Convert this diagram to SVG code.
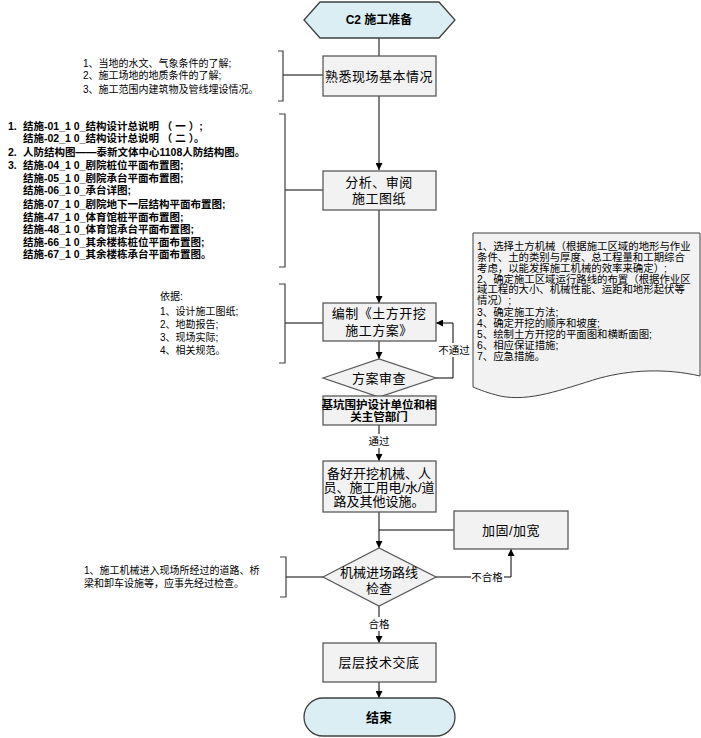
<svg xmlns="http://www.w3.org/2000/svg" width="701" height="738" viewBox="0 0 701 738">
<defs>
<marker id="ah" viewBox="0 0 10 10" refX="10" refY="5" markerWidth="7" markerHeight="7" markerUnits="userSpaceOnUse" orient="auto"><path d="M0,0 L10,5 L0,10 Z" fill="#000"/></marker>
<style>
text{font-family:"Liberation Sans","Noto Sans CJK SC",sans-serif;fill:#000}
.box{fill:#f2f2f2;stroke:#5a5a5a;stroke-width:1.3}
.term{fill:#daeef3;stroke:#404040;stroke-width:1.3}
.bt{font-size:13px;text-anchor:middle;dominant-baseline:central}
.bb{font-size:12px;font-weight:bold;text-anchor:middle;dominant-baseline:central}
.note{font-size:10px;dominant-baseline:central}
.noteb{font-size:10.5px;font-weight:bold;dominant-baseline:central}
.lbl{font-size:10.5px;text-anchor:middle;dominant-baseline:central}
.c{fill:none;stroke:#000;stroke-width:1}
.br{fill:none;stroke:#404040;stroke-width:1.2}
</style>
</defs>
<rect width="701" height="738" fill="#fff"/>

<g id="connectors">
<path class="c" d="M379,38 V56"/>
<path class="c" d="M379,96 V170" marker-end="url(#ah)"/>
<path class="c" d="M379,210 V303" marker-end="url(#ah)"/>
<path class="c" d="M379,341 V359" marker-end="url(#ah)"/>
<path class="c" d="M436,378 H453 V323 H436" marker-end="url(#ah)"/>
<path class="c" d="M379,425 V461" marker-end="url(#ah)"/>
<path class="c" d="M379,512 V548" marker-end="url(#ah)"/>
<path class="c" d="M454,530 H379"/>
<path class="c" d="M436,577 H511 V549" marker-end="url(#ah)"/>
<path class="c" d="M379,606 V643" marker-end="url(#ah)"/>
<path class="c" d="M379,682 V698" marker-end="url(#ah)"/>
<path d="M283,75 H323" stroke="#7f7f7f" stroke-width="2" fill="none"/>
<path class="c" d="M285,190 H323"/>
<path d="M285,323 H323" stroke="#555" stroke-width="1.3" fill="none"/>
<path class="c" d="M286,577 H323"/>
<rect x="437" y="343" width="34" height="14" fill="#fff"/>
<text class="lbl" x="454" y="350">不通过</text>
<rect x="367" y="434" width="24" height="14" fill="#fff"/>
<text class="lbl" x="379" y="441">通过</text>
<rect x="471" y="570" width="33" height="14" fill="#fff"/>
<text class="lbl" x="487" y="577">不合格</text>
<rect x="367" y="617" width="24" height="14" fill="#fff"/>
<text class="lbl" x="379" y="624">合格</text>
</g>

<g id="start">
<path class="term" d="M304,20 L320,2 H439 L455,20 L439,38 H320 Z"/>
<text class="bb" x="379" y="20">C2 施工准备</text>
</g>

<g id="n1">
<rect class="box" x="323" y="56" width="113" height="40"/>
<text class="bt" x="379" y="76" letter-spacing="0.5">熟悉现场基本情况</text>
</g>

<g id="n2">
<rect class="box" x="323" y="171" width="113" height="39"/>
<text class="bt" x="379" y="182" letter-spacing="0.5">分析、审阅</text>
<text class="bt" x="379" y="198" letter-spacing="0.5">施工图纸</text>
</g>

<g id="n3">
<rect class="box" x="323" y="303" width="113" height="38"/>
<text class="bt" x="379" y="313" letter-spacing="0.5">编制《土方开挖</text>
<text class="bt" x="379" y="330" letter-spacing="0.5">施工方案》</text>
</g>

<g id="d1">
<path class="box" d="M323,378 L379,359 L436,378 L379,397 Z"/>
<text class="bt" x="379" y="378" letter-spacing="0.5">方案审查</text>
</g>

<g id="n4">
<rect class="box" x="323" y="396" width="113" height="29"/>
<text class="bb" x="379" y="405" style="font-size:11.5px">基坑围护设计单位和相</text>
<text class="bb" x="379" y="417" style="font-size:11.5px">关主管部门</text>
</g>

<g id="n5">
<rect class="box" x="323" y="461" width="113" height="51"/>
<text class="bt" x="379" y="473">备好开挖机械、人</text>
<text class="bt" x="379" y="487">员、施工用电/水/道</text>
<text class="bt" x="379" y="501">路及其他设施。</text>
</g>

<g id="n6">
<rect class="box" x="454" y="511" width="114" height="38"/>
<text class="bt" x="511" y="530" letter-spacing="0.5">加固/加宽</text>
</g>

<g id="d2">
<path class="box" d="M323,577 L379,548 L436,577 L379,606 Z"/>
<text class="bt" x="379" y="572">机械进场路线</text>
<text class="bt" x="379" y="588">检查</text>
</g>

<g id="n7">
<rect class="box" x="323" y="643" width="113" height="39"/>
<text class="bt" x="379" y="662" letter-spacing="0.5">层层技术交底</text>
</g>

<g id="end">
<rect class="term" x="304" y="698" width="151" height="38" rx="19" ry="19"/>
<text class="bb" x="379" y="717" style="font-size:13px">结束</text>
</g>

<g id="note1">
<path class="br" d="M278,51 H283 V101 H278"/>
<text class="note" x="83" y="63">1、当地的水文、气象条件的了解;</text>
<text class="note" x="83" y="75">2、施工场地的地质条件的了解;</text>
<text class="note" x="83" y="89">3、施工范围内建筑物及管线埋设情况。</text>
</g>

<g id="note2">
<path class="br" d="M279,114 H285 V267 H279"/>
<text class="noteb" x="8" y="126">1.</text>
<text class="noteb" x="23" y="126">结施-01_1 0_结构设计总说明 （ 一 ）;</text>
<text class="noteb" x="23" y="138">结施-02_1 0_结构设计总说明 （ 二 ）。</text>
<text class="noteb" x="8" y="152">2.</text>
<text class="noteb" x="23" y="152">人防结构图——泰新文体中心1108人防结构图。</text>
<text class="noteb" x="8" y="165">3.</text>
<text class="noteb" x="23" y="165">结施-04_1 0_剧院桩位平面布置图;</text>
<text class="noteb" x="23" y="178">结施-05_1 0_剧院承台平面布置图;</text>
<text class="noteb" x="23" y="190">结施-06_1 0_承台详图;</text>
<text class="noteb" x="23" y="204">结施-07_1 0_剧院地下一层结构平面布置图;</text>
<text class="noteb" x="23" y="217">结施-47_1 0_体育馆桩平面布置图;</text>
<text class="noteb" x="23" y="229">结施-48_1 0_体育馆承台平面布置图;</text>
<text class="noteb" x="23" y="242">结施-66_1 0_其余楼栋桩位平面布置图;</text>
<text class="noteb" x="23" y="254">结施-67_1 0_其余楼栋承台平面布置图。</text>
</g>

<g id="note3">
<path class="br" d="M279,284 H285 V363 H279"/>
<text class="note" x="160" y="296">依据:</text>
<text class="note" x="160" y="311">1、设计施工图纸;</text>
<text class="note" x="160" y="324">2、地勘报告;</text>
<text class="note" x="160" y="337">3、现场实际;</text>
<text class="note" x="160" y="350">4、相关规范。</text>
</g>

<g id="note4">
<path class="br" d="M280,557 H286 V597 H280"/>
<text class="note" x="84" y="570">1、施工机械进入现场所经过的道路、桥</text>
<text class="note" x="84" y="583">梁和卸车设施等，应事先经过检查。</text>
</g>

<g id="doc">
<path d="M473,233 H700 V376 C665,368 630,370 600,378 C560,390 530,402 500,396 C488,393 480,390 473,387 Z" fill="#f2f2f2" stroke="#404040" stroke-width="1"/>
<text class="note" x="477" y="246" style="font-size:10.4px">1、选择土方机械（根据施工区域的地形与作业</text>
<text class="note" x="477" y="257" style="font-size:10.4px">条件、土的类别与厚度、总工程量和工期综合</text>
<text class="note" x="477" y="268" style="font-size:10.4px">考虑，以能发挥施工机械的效率来确定）;</text>
<text class="note" x="477" y="279" style="font-size:10.4px">2、确定施工区域运行路线的布置（根据作业区</text>
<text class="note" x="477" y="289" style="font-size:10.4px">域工程的大小、机械性能、运距和地形起伏等</text>
<text class="note" x="477" y="300" style="font-size:10.4px">情况）;</text>
<text class="note" x="477" y="312" style="font-size:10.4px">3、确定施工方法;</text>
<text class="note" x="477" y="323" style="font-size:10.4px">4、确定开挖的顺序和坡度;</text>
<text class="note" x="477" y="334" style="font-size:10.4px">5、绘制土方开挖的平面图和横断面图;</text>
<text class="note" x="477" y="345" style="font-size:10.4px">6、相应保证措施;</text>
<text class="note" x="477" y="356" style="font-size:10.4px">7、应急措施。</text>
</g>
</svg>
